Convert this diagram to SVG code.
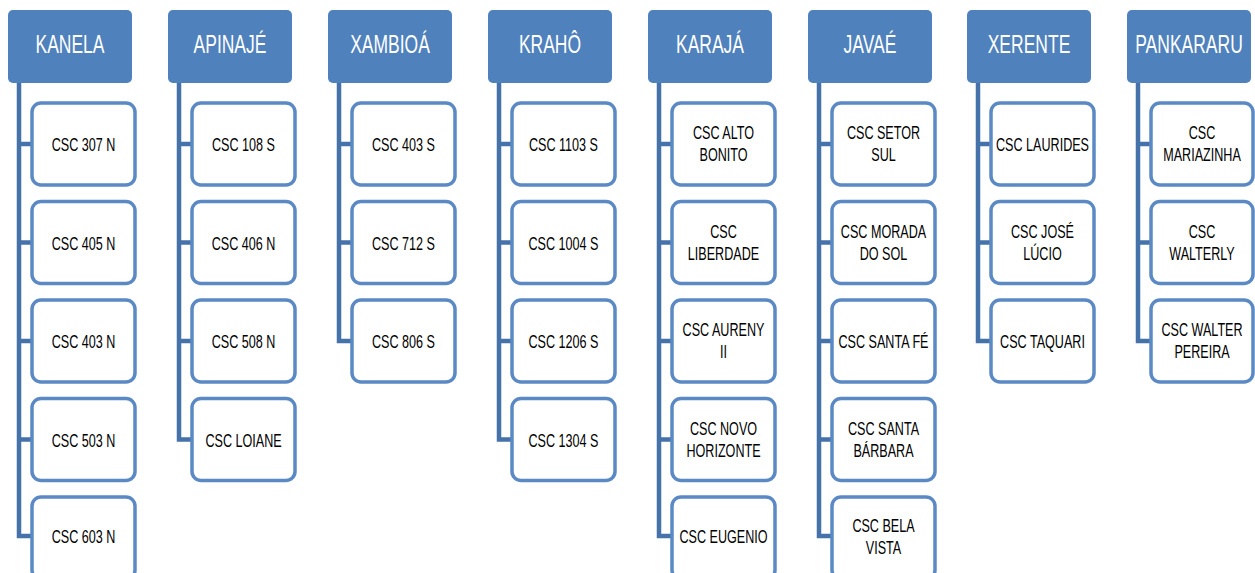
<svg xmlns="http://www.w3.org/2000/svg" width="1255" height="573" viewBox="0 0 1255 573">
<style>
.hd{fill:#4F81BD}
.ht{fill:#FFFFFF;font-family:"Liberation Sans",Arial,sans-serif;font-size:25px;text-anchor:middle}
.bx{fill:#FFFFFF;stroke:#5B89C4;stroke-width:3.5}
.ct{fill:#000000;font-family:"Liberation Sans",Arial,sans-serif;font-size:18px;text-anchor:middle}
.cn{fill:none;stroke:#4672AA;stroke-width:4.5}
</style>
<rect width="1255" height="573" fill="#FFFFFF"/>
<g id="connectors">
<path class="cn" d="M19 83V536H32M19 144H32M19 242.5H32M19 341H32M19 439.5H32"/>
<path class="cn" d="M179 83V439.5H192M179 144H192M179 242.5H192M179 341H192"/>
<path class="cn" d="M339 83V341H352M339 144H352M339 242.5H352"/>
<path class="cn" d="M499 83V439.5H512M499 144H512M499 242.5H512M499 341H512"/>
<path class="cn" d="M659 83V536H672M659 144H672M659 242.5H672M659 341H672M659 439.5H672"/>
<path class="cn" d="M819 83V536H832M819 144H832M819 242.5H832M819 341H832M819 439.5H832"/>
<path class="cn" d="M978 83V341H991M978 144H991M978 242.5H991"/>
<path class="cn" d="M1138 83V341H1151M1138 144H1151M1138 242.5H1151"/>
</g>
<g id="kanela">
<rect class="hd" x="8" y="10" width="124" height="73" rx="5"/>
<text class="ht" transform="translate(70 53) scale(.7 1)">KANELA</text>
</g>
<g id="kanela-1"><rect class="bx" x="32" y="103" width="103" height="82" rx="9"/><text class="ct" transform="translate(83.5 151) scale(.7 1)">CSC 307 N</text></g>
<g id="kanela-2"><rect class="bx" x="32" y="201.5" width="103" height="82" rx="9"/><text class="ct" transform="translate(83.5 249.5) scale(.7 1)">CSC 405 N</text></g>
<g id="kanela-3"><rect class="bx" x="32" y="300" width="103" height="82" rx="9"/><text class="ct" transform="translate(83.5 348) scale(.7 1)">CSC 403 N</text></g>
<g id="kanela-4"><rect class="bx" x="32" y="398.5" width="103" height="82" rx="9"/><text class="ct" transform="translate(83.5 446.5) scale(.7 1)">CSC 503 N</text></g>
<g id="kanela-5"><rect class="bx" x="32" y="497" width="103" height="82" rx="9"/><text class="ct" transform="translate(83.5 543) scale(.7 1)">CSC 603 N</text></g>

<g id="apinaje">
<rect class="hd" x="168" y="10" width="124" height="73" rx="5"/>
<text class="ht" transform="translate(230 53) scale(.7 1)">APINAJÉ</text>
</g>
<g id="apinaje-1"><rect class="bx" x="192" y="103" width="103" height="82" rx="9"/><text class="ct" transform="translate(243.5 151) scale(.7 1)">CSC 108 S</text></g>
<g id="apinaje-2"><rect class="bx" x="192" y="201.5" width="103" height="82" rx="9"/><text class="ct" transform="translate(243.5 249.5) scale(.7 1)">CSC 406 N</text></g>
<g id="apinaje-3"><rect class="bx" x="192" y="300" width="103" height="82" rx="9"/><text class="ct" transform="translate(243.5 348) scale(.7 1)">CSC 508 N</text></g>
<g id="apinaje-4"><rect class="bx" x="192" y="398.5" width="103" height="82" rx="9"/><text class="ct" transform="translate(243.5 446.5) scale(.7 1)">CSC LOIANE</text></g>

<g id="xambioa">
<rect class="hd" x="328" y="10" width="124" height="73" rx="5"/>
<text class="ht" transform="translate(390 53) scale(.7 1)">XAMBIOÁ</text>
</g>
<g id="xambioa-1"><rect class="bx" x="352" y="103" width="103" height="82" rx="9"/><text class="ct" transform="translate(403.5 151) scale(.7 1)">CSC 403 S</text></g>
<g id="xambioa-2"><rect class="bx" x="352" y="201.5" width="103" height="82" rx="9"/><text class="ct" transform="translate(403.5 249.5) scale(.7 1)">CSC 712 S</text></g>
<g id="xambioa-3"><rect class="bx" x="352" y="300" width="103" height="82" rx="9"/><text class="ct" transform="translate(403.5 348) scale(.7 1)">CSC 806 S</text></g>

<g id="kraho">
<rect class="hd" x="488" y="10" width="124" height="73" rx="5"/>
<text class="ht" transform="translate(550 53) scale(.7 1)">KRAHÔ</text>
</g>
<g id="kraho-1"><rect class="bx" x="512" y="103" width="103" height="82" rx="9"/><text class="ct" transform="translate(563.5 151) scale(.7 1)">CSC 1103 S</text></g>
<g id="kraho-2"><rect class="bx" x="512" y="201.5" width="103" height="82" rx="9"/><text class="ct" transform="translate(563.5 249.5) scale(.7 1)">CSC 1004 S</text></g>
<g id="kraho-3"><rect class="bx" x="512" y="300" width="103" height="82" rx="9"/><text class="ct" transform="translate(563.5 348) scale(.7 1)">CSC 1206 S</text></g>
<g id="kraho-4"><rect class="bx" x="512" y="398.5" width="103" height="82" rx="9"/><text class="ct" transform="translate(563.5 446.5) scale(.7 1)">CSC 1304 S</text></g>

<g id="karaja">
<rect class="hd" x="648" y="10" width="124" height="73" rx="5"/>
<text class="ht" transform="translate(710 53) scale(.7 1)">KARAJÁ</text>
</g>
<g id="karaja-1"><rect class="bx" x="672" y="103" width="103" height="82" rx="9"/><text class="ct" transform="translate(723.5 139) scale(.7 1)">CSC ALTO</text><text class="ct" transform="translate(723.5 161) scale(.7 1)">BONITO</text></g>
<g id="karaja-2"><rect class="bx" x="672" y="201.5" width="103" height="82" rx="9"/><text class="ct" transform="translate(723.5 237.5) scale(.7 1)">CSC</text><text class="ct" transform="translate(723.5 259.5) scale(.7 1)">LIBERDADE</text></g>
<g id="karaja-3"><rect class="bx" x="672" y="300" width="103" height="82" rx="9"/><text class="ct" transform="translate(723.5 336) scale(.7 1)">CSC AURENY</text><text class="ct" transform="translate(723.5 358) scale(.7 1)">II</text></g>
<g id="karaja-4"><rect class="bx" x="672" y="398.5" width="103" height="82" rx="9"/><text class="ct" transform="translate(723.5 434.5) scale(.7 1)">CSC NOVO</text><text class="ct" transform="translate(723.5 456.5) scale(.7 1)">HORIZONTE</text></g>
<g id="karaja-5"><rect class="bx" x="672" y="497" width="103" height="82" rx="9"/><text class="ct" transform="translate(723.5 543) scale(.7 1)">CSC EUGENIO</text></g>

<g id="javae">
<rect class="hd" x="808" y="10" width="124" height="73" rx="5"/>
<text class="ht" transform="translate(870 53) scale(.7 1)">JAVAÉ</text>
</g>
<g id="javae-1"><rect class="bx" x="832" y="103" width="103" height="82" rx="9"/><text class="ct" transform="translate(883.5 139) scale(.7 1)">CSC SETOR</text><text class="ct" transform="translate(883.5 161) scale(.7 1)">SUL</text></g>
<g id="javae-2"><rect class="bx" x="832" y="201.5" width="103" height="82" rx="9"/><text class="ct" transform="translate(883.5 237.5) scale(.7 1)">CSC MORADA</text><text class="ct" transform="translate(883.5 259.5) scale(.7 1)">DO SOL</text></g>
<g id="javae-3"><rect class="bx" x="832" y="300" width="103" height="82" rx="9"/><text class="ct" transform="translate(883.5 348) scale(.7 1)">CSC SANTA FÉ</text></g>
<g id="javae-4"><rect class="bx" x="832" y="398.5" width="103" height="82" rx="9"/><text class="ct" transform="translate(883.5 434.5) scale(.7 1)">CSC SANTA</text><text class="ct" transform="translate(883.5 456.5) scale(.7 1)">BÁRBARA</text></g>
<g id="javae-5"><rect class="bx" x="832" y="497" width="103" height="82" rx="9"/><text class="ct" transform="translate(883.5 532) scale(.7 1)">CSC BELA</text><text class="ct" transform="translate(883.5 554) scale(.7 1)">VISTA</text></g>

<g id="xerente">
<rect class="hd" x="967" y="10" width="124" height="73" rx="5"/>
<text class="ht" transform="translate(1029 53) scale(.7 1)">XERENTE</text>
</g>
<g id="xerente-1"><rect class="bx" x="991" y="103" width="103" height="82" rx="9"/><text class="ct" transform="translate(1042.5 151) scale(.7 1)">CSC LAURIDES</text></g>
<g id="xerente-2"><rect class="bx" x="991" y="201.5" width="103" height="82" rx="9"/><text class="ct" transform="translate(1042.5 237.5) scale(.7 1)">CSC JOSÉ</text><text class="ct" transform="translate(1042.5 259.5) scale(.7 1)">LÚCIO</text></g>
<g id="xerente-3"><rect class="bx" x="991" y="300" width="103" height="82" rx="9"/><text class="ct" transform="translate(1042.5 348) scale(.7 1)">CSC TAQUARI</text></g>

<g id="pankararu">
<rect class="hd" x="1127" y="10" width="124" height="73" rx="5"/>
<text class="ht" transform="translate(1189 53) scale(.7 1)">PANKARARU</text>
</g>
<g id="pankararu-1"><rect class="bx" x="1151" y="103" width="102" height="82" rx="9"/><text class="ct" transform="translate(1202 139) scale(.7 1)">CSC</text><text class="ct" transform="translate(1202 161) scale(.7 1)">MARIAZINHA</text></g>
<g id="pankararu-2"><rect class="bx" x="1151" y="201.5" width="102" height="82" rx="9"/><text class="ct" transform="translate(1202 237.5) scale(.7 1)">CSC</text><text class="ct" transform="translate(1202 259.5) scale(.7 1)">WALTERLY</text></g>
<g id="pankararu-3"><rect class="bx" x="1151" y="300" width="102" height="82" rx="9"/><text class="ct" transform="translate(1202 336) scale(.7 1)">CSC WALTER</text><text class="ct" transform="translate(1202 358) scale(.7 1)">PEREIRA</text></g>
</svg>
